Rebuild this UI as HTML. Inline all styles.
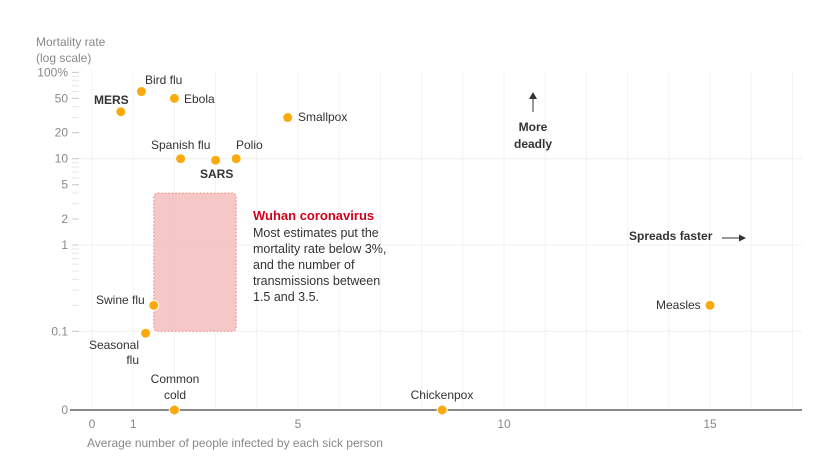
<!DOCTYPE html>
<html><head><meta charset="utf-8"><style>
body{margin:0;background:#fff;width:825px;height:458px;overflow:hidden;font-family:"Liberation Sans",Arial,sans-serif}
svg text{font-family:"Liberation Sans",Arial,sans-serif}
</style></head><body>
<svg id="chart" width="825" height="458"></svg>
<script>
const names=["MERS","Bird flu","Ebola","Smallpox","Spanish flu","SARS","Polio","Swine flu","Seasonal flu","Common cold","Chickenpox","Measles"];
const r0Values=[0.7,1.2,2.0,4.75,2.15,3.0,3.5,1.5,1.3,2.0,8.5,15];
const mortalityValues=[35,60,50,30,10,9.6,10,0.2,0.095,0,0,0.2];
const xTicks=[0,1,5,10,15];
const yTicks=[100,50,20,10,5,2,1,0.1];
const yTickLabels=["100%","50","20","10","5","2","1","0.1"];
const wuhanRange={x0:1.5,x1:3.5,y0:0.1,y1:4};

const svg=document.getElementById('chart');
const NS='http://www.w3.org/2000/svg';
function xs(v){return 92+v*41.2;}
function ys(v){return v<=0?410:245-Math.log10(v)*86.3;}
function el(tag,attrs,name,inter,parent){
  const e=document.createElementNS(NS,tag);
  for(const k in attrs)e.setAttribute(k,attrs[k]);
  
  
  (parent||svg).appendChild(e);return e;
}
function tx(x,y,s,opts,name){
  const t=document.createElementNS(NS,'text');
  t.setAttribute('x',x);t.setAttribute('y',y);
  t.setAttribute('font-size',opts.size||12);
  t.setAttribute('fill',opts.fill||'#333');
  if(opts.anchor)t.setAttribute('text-anchor',opts.anchor);
  if(opts.weight)t.setAttribute('font-weight',opts.weight);
  t.textContent=s;
  
  
  svg.appendChild(t);return t;
}
for(let i=0;i<=17;i++){
  el('line',{x1:xs(i),x2:xs(i),y1:72,y2:410,stroke:'#f3f3f3','stroke-width':1},'x-gridline',false);
}
[10,1,0.1].forEach(v=>el('line',{x1:80,x2:802,y1:ys(v),y2:ys(v),stroke:'#f0f0f0','stroke-width':1},'y-gridline',false));
for(const d of [0.1,1,10]){for(let m=1;m<10;m++){const v=d*m;const y=ys(v);
  el('line',{x1:72,x2:79,y1:y,y2:y,stroke:'#e6e6e6','stroke-width':1},'y-minor-tick',false);}}
yTicks.forEach((v,i)=>{
  el('line',{x1:72,x2:79,y1:ys(v),y2:ys(v),stroke:'#ccc'},'y-tick',false);
  tx(68,ys(v)+4,yTickLabels[i],{anchor:'end',fill:'#888'},'y-tick-label');
});
tx(68,414,"0",{anchor:'end',fill:'#888'},'y-tick-label-zero');
tx(36,46,"Mortality rate",{fill:'#888'},'y-axis-title');
tx(36,62,"(log scale)",{fill:'#888'},'y-axis-subtitle');
el('line',{x1:70,x2:802,y1:410,y2:410,stroke:'#888','stroke-width':2},'x-axis-line',false);
xTicks.forEach(v=>tx(xs(v),428,String(v),{anchor:'middle',fill:'#888'},'x-tick-label'));
tx(87,447,"Average number of people infected by each sick person",{fill:'#888'},'x-axis-title');
el('rect',{x:xs(wuhanRange.x0),y:ys(wuhanRange.y1),width:xs(wuhanRange.x1)-xs(wuhanRange.x0),height:ys(wuhanRange.y0)-ys(wuhanRange.y1),rx:4,fill:'#f4c2c2',stroke:'#ee8a70','stroke-dasharray':'1.5,2','stroke-width':1.2,opacity:0.9},'wuhan-range-box',false);
tx(253,220,"Wuhan coronavirus",{fill:'#d0021b',weight:'bold',size:13},'wuhan-title');
["Most estimates put the","mortality rate below 3%,","and the number of","transmissions between","1.5 and 3.5."].forEach((s,i)=>tx(253,237+i*16,s,{fill:'#333',size:12.5},'wuhan-note'));
const labelPos={
 "MERS":[94,104,'start','bold'],"Bird flu":[145,84,'start'],"Ebola":[184,103,'start'],"Smallpox":[298,121,'start'],
 "Spanish flu":[151,149,'start'],"SARS":[200,178,'start','bold'],"Polio":[236,149,'start'],"Swine flu":[96,304,'start'],
 "Measles":[656,309,'start'],"Chickenpox":[442,399,'middle']};
names.forEach((n,i)=>{
  el('circle',{cx:xs(r0Values[i]),cy:ys(mortalityValues[i]),r:5,fill:'#fbaa0e',stroke:'#fff','stroke-width':1},'point-'+n.toLowerCase().replace(/ /g,'-'),true);
  const p=labelPos[n];
  if(p)tx(p[0],p[1],n,{anchor:p[2],weight:p[3],size:12},'label-'+n.toLowerCase().replace(/ /g,'-'));
});
tx(139,349,"Seasonal",{anchor:'end'},'label-seasonal-flu');
tx(139,364,"flu",{anchor:'end'},'label-seasonal-flu-2');
tx(175,383,"Common",{anchor:'middle'},'label-common-cold');
tx(175,399,"cold",{anchor:'middle'},'label-common-cold-2');
el('line',{x1:533,x2:533,y1:112,y2:96,stroke:'#333','stroke-width':1},'more-deadly-arrow',false);
el('path',{d:'M529,99 L533,92 L537,99 Z',fill:'#333'},'more-deadly-arrowhead',false);
tx(533,131,"More",{anchor:'middle',weight:'bold'},'more-deadly-label');
tx(533,148,"deadly",{anchor:'middle',weight:'bold'},'more-deadly-label-2');
tx(629,240,"Spreads faster",{weight:'bold'},'spreads-faster-label');
el('line',{x1:722,x2:740,y1:238,y2:238,stroke:'#333'},'spreads-faster-arrow',false);
el('path',{d:'M739,234.5 L746,238 L739,241.5 Z',fill:'#333'},'spreads-faster-arrowhead',false);
</script>
</body></html>
